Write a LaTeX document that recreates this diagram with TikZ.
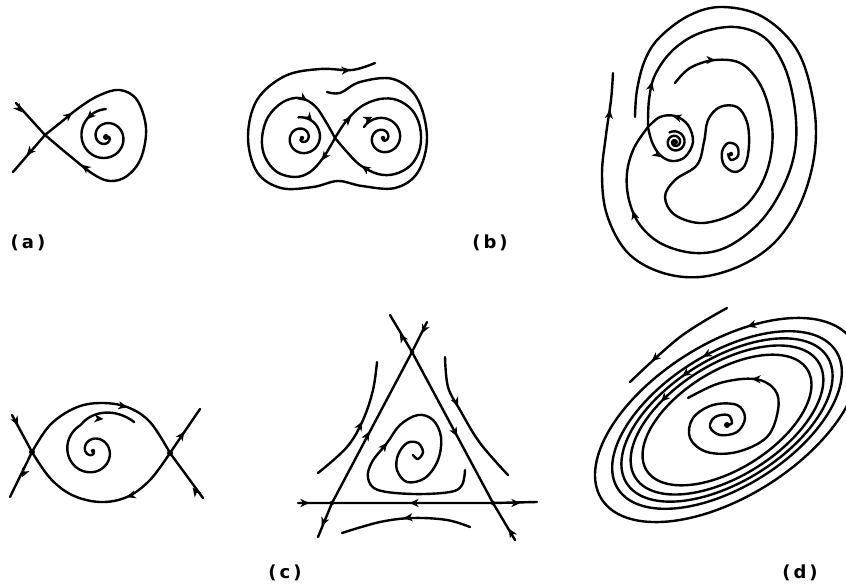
\documentclass[tikz,border=0pt]{standalone}
\usepackage{fontspec}
\setmainfont{DejaVu Sans}
\usetikzlibrary{arrows.meta}
\tikzset{
  curve/.style={line width=2.4pt, line cap=round, line join=round},
  tipst/.style={line width=2.4pt, -{Stealth[length=9pt,width=8pt,inset=2.5pt]}},
  dotc/.style={circle, fill=black, inner sep=0pt, minimum size=6pt},
  sdot/.style={circle, fill=black, inner sep=0pt, minimum size=4.5pt},
  lab/.style={font=\bfseries\fontsize{18}{21}\selectfont, inner sep=0pt}
}
% arrowhead at point #1 pointing in screen direction #2 (degrees, y downward)
\newcommand\arrhead[2]{\draw[tipst] (#1) ++(#2+180:5) -- ++(#2:5.5);}
\begin{document}
\begin{tikzpicture}[x=1pt, y=-1pt]
\useasboundingbox (0,0) rectangle (846,586);
\clip (0,0) rectangle (846,586);
\fill[white] (0,0) rectangle (846,586);

% ================= panel (a) =================
\coordinate (Sa) at (45,135);
\coordinate (Fa) at (106,137);
\draw[curve] (16,103) -- (Sa);
\draw[curve] (Sa) -- (13,172);
\draw[curve] plot[smooth, tension=0.6] coordinates {(45,135) (60,123) (80,107) (100,95) (120,90) (137,100) (146,128) (141,158) (127,176) (110,181) (93,174) (70,156) (45,135)};
\draw[curve] plot[domain=0:630, samples=150, variable=\v] ({106+(28-25*(\v/630))*cos(\v-630)}, {137-(28-25*(\v/630))*sin(\v-630)});
\arrhead{22,112}{48}
\arrhead{27,155}{131}
\arrhead{72,113}{-39}
\arrhead{82,165}{218}
\arrhead{87,119}{135}
\node[sdot] at (Sa) {};
\node[dotc] at (Fa) {};
\node[lab] (la) at (28,243) {(\,a\,)};

% ================= panel (b) =================
\coordinate (Sb) at (335,138);
\draw[curve] plot[smooth, tension=0.6] coordinates {(335,138) (323,158) (310,172) (295,177) (277,172) (265,157) (262,138) (268,117) (283,102) (300,98) (315,106) (326,122) (335,138)};
\draw[curve] plot[smooth, tension=0.6] coordinates {(335,138) (347,120) (362,106) (380,99) (397,100) (412,110) (420,127) (420,148) (411,165) (395,174) (378,174) (360,165) (347,152) (335,138)};
\draw[curve] plot[domain=0:600, samples=140, variable=\v] ({302+(21-19*(\v/600))*cos(100-\v)}, {138-(21-19*(\v/600))*sin(100-\v)});
\draw[curve] plot[domain=0:600, samples=140, variable=\v] ({383+(22-20*(\v/600))*cos(150-\v)}, {138-(22-20*(\v/600))*sin(150-\v)});
\draw[curve] plot[smooth, tension=0.6] coordinates {(327,92) (340,93) (360,82) (393,79) (417,98) (427,137) (418,172) (395,188) (362,186) (338,181) (313,187) (281,188) (257,172) (248,137) (257,100) (285,76) (320,69) (352,70) (375,63)};
\arrhead{322,160}{126}
\arrhead{307,101}{35}
\arrhead{351,117}{-45}
\arrhead{362,166}{215}
\arrhead{312,121}{50}
\arrhead{372,117}{-25}
\arrhead{350,70}{-5}
\node[sdot] at (302,138) {};
\node[sdot] at (383,138) {};
\node[lab] (lb) at (490,243) {(\,b\,)};

% ================= top right panel =================
\coordinate (S2) at (648,127);
\coordinate (F1) at (675,142);
\coordinate (F2) at (731,154);
\draw[curve] plot[smooth, tension=0.6] coordinates {(648,127) (652,142) (660,155) (672,161) (685,157) (693,142) (688,125) (675,116) (660,117) (648,127)};
\draw[curve] plot[smooth, tension=0.6] coordinates {(648,127) (649,100) (655,75) (673,50) (700,33) (735,27) (765,38) (785,68) (795,110) (795,150) (783,187) (760,222) (727,247) (695,253) (662,244) (640,225) (629,200) (627,173) (634,148) (648,127)};
\draw[curve] plot[smooth, tension=0.6] coordinates {(635,117) (637,90) (645,60) (660,37) (690,15) (723,7) (763,17) (797,50) (813,100) (815,150) (802,200) (777,240) (742,265) (700,277) (660,272) (627,252) (607,215) (602,175) (606,135) (611,100) (613,73)};
\draw[curve] plot[smooth, tension=0.6] coordinates {(675,83) (690,68) (715,60) (742,64) (762,88) (772,125) (770,160) (758,190) (737,212) (703,223) (675,215) (665,197) (675,180) (697,165) (704,142) (708,120) (720,107) (737,107) (747,122) (749,145) (745,165) (735,172) (724,165) (722,152) (728,143) (737,146) (738,156) (731,160) (728,154)};
\draw[curve] plot[domain=0:720, samples=150, variable=\v] ({675+(11-9*(\v/720))*cos(120-\v)}, {142-(11-9*(\v/720))*sin(120-\v)});
\arrhead{661,157}{35}
\arrhead{673,116}{196}
\arrhead{652,82}{-77}
\arrhead{633,211}{254}
\arrhead{610,110}{-82}
\arrhead{715,60}{0}
\node[dotc] at (F1) {};
\node[sdot] at (F2) {};

% ================= panel (c) =================
\coordinate (SL) at (32,452);
\coordinate (SR) at (170,453);
\draw[curve] (12,415) -- (SL);
\draw[curve] (SL) -- (10,497);
\draw[curve] (SR) -- (200,409);
\draw[curve] (203,498) -- (SR);
\draw[curve] plot[smooth, tension=0.6] coordinates {(32,452) (50,425) (75,408) (100,403) (127,407) (150,422) (170,453)};
\draw[curve] plot[smooth, tension=0.6] coordinates {(170,453) (150,480) (127,497) (100,502) (72,495) (50,478) (32,452)};
\draw[curve] plot[domain=0:620, samples=160, variable=\u] ({93+(2+28*(\u/565)+0.22*max(0,\u-540))*cos(655-\u)}, {451-(2+28*(\u/565)+0.22*max(0,\u-540))*sin(655-\u)});
\arrhead{18,425}{62}
\arrhead{22,477}{116}
\arrhead{184,432}{-56}
\arrhead{193,488}{234}
\arrhead{127,407}{12}
\arrhead{127,497}{162}
\arrhead{103,419}{5}
\node[dotc] at (SL) {};
\node[dotc] at (SR) {};
\node[sdot] at (93,451) {};
\node[lab] (lc) at (285,573) {(\,c\,)};

% ================= triangle panel =================
\coordinate (T) at (412,352);
\coordinate (BL) at (332,503);
\coordinate (BR) at (493,503);
\draw[curve] (390,315) -- (T) -- (BR) -- (515,540);
\draw[curve] (427,322) -- (T) -- (BL) -- (318,537);
\draw[curve] (298,503) -- (BL) -- (BR) -- (537,502);
\draw[curve] plot[smooth, tension=0.6] coordinates {(318,473) (347,447) (363,420) (373,390) (377,362)};
\draw[curve] plot[smooth, tension=0.6] coordinates {(445,357) (448,387) (460,410) (480,443) (508,475)};
\draw[curve] plot[smooth, tension=0.6] coordinates {(470,527) (447,520) (413,518) (380,522) (342,533)};
\draw[curve] plot[smooth, tension=0.6] coordinates {(465,470) (462,485) (450,492) (413,494) (378,490) (368,478) (372,462) (387,443) (400,425) (418,415) (433,420) (441,437) (438,460) (425,478) (407,482) (397,470) (398,455) (407,443) (418,443) (423,452) (418,459) (413,455)};
\arrhead{400,334}{-121}
\arrhead{457,436}{62}
\arrhead{509,529}{-121}
\arrhead{422,333}{117}
\arrhead{369,432}{-62}
\arrhead{322,526}{112}
\arrhead{309,503}{0}
\arrhead{410,503}{180}
\arrhead{520,503}{0}
\arrhead{362,422}{-62}
\arrhead{458,406}{65}
\arrhead{404,518}{175}
\arrhead{387,443}{-52}
\node[sdot] at (T) {};
\node[sdot] at (BL) {};
\node[sdot] at (BR) {};

% ================= panel (d) =================
\coordinate (Fd) at (727,425);
\foreach \s in {1, 0.87, 0.80, 0.73, 0.64}{
  \draw[curve] plot[domain=0:360, samples=140, variable=\t] ({727+\s*132*cos(\t)}, {420-\s*(55*cos(\t)+86*sin(\t))});
}
\draw[curve] plot[smooth, tension=0.6] coordinates {(727,308) (680,337) (630,382)};
\draw[curve] plot[smooth, tension=0.6] coordinates {(727,425) (732,423) (728,415) (715,417) (710,427) (720,435) (737,432) (745,418) (737,405) (713,405) (693,418) (690,438) (707,452) (737,452) (767,437) (778,410) (775,390) (755,379) (720,383) (688,398)};
\arrhead{747.6,326.5}{163}
\arrhead{703.1,356.7}{151}
\arrhead{682.3,376.2}{144}
\arrhead{661.3,401.5}{134}
\arrhead{652,361}{138}
\arrhead{752,379}{182}
\node[dotc] at (Fd) {};
\node[lab] (ld) at (800,573) {(\,d\,)};
\end{tikzpicture}
\end{document}
